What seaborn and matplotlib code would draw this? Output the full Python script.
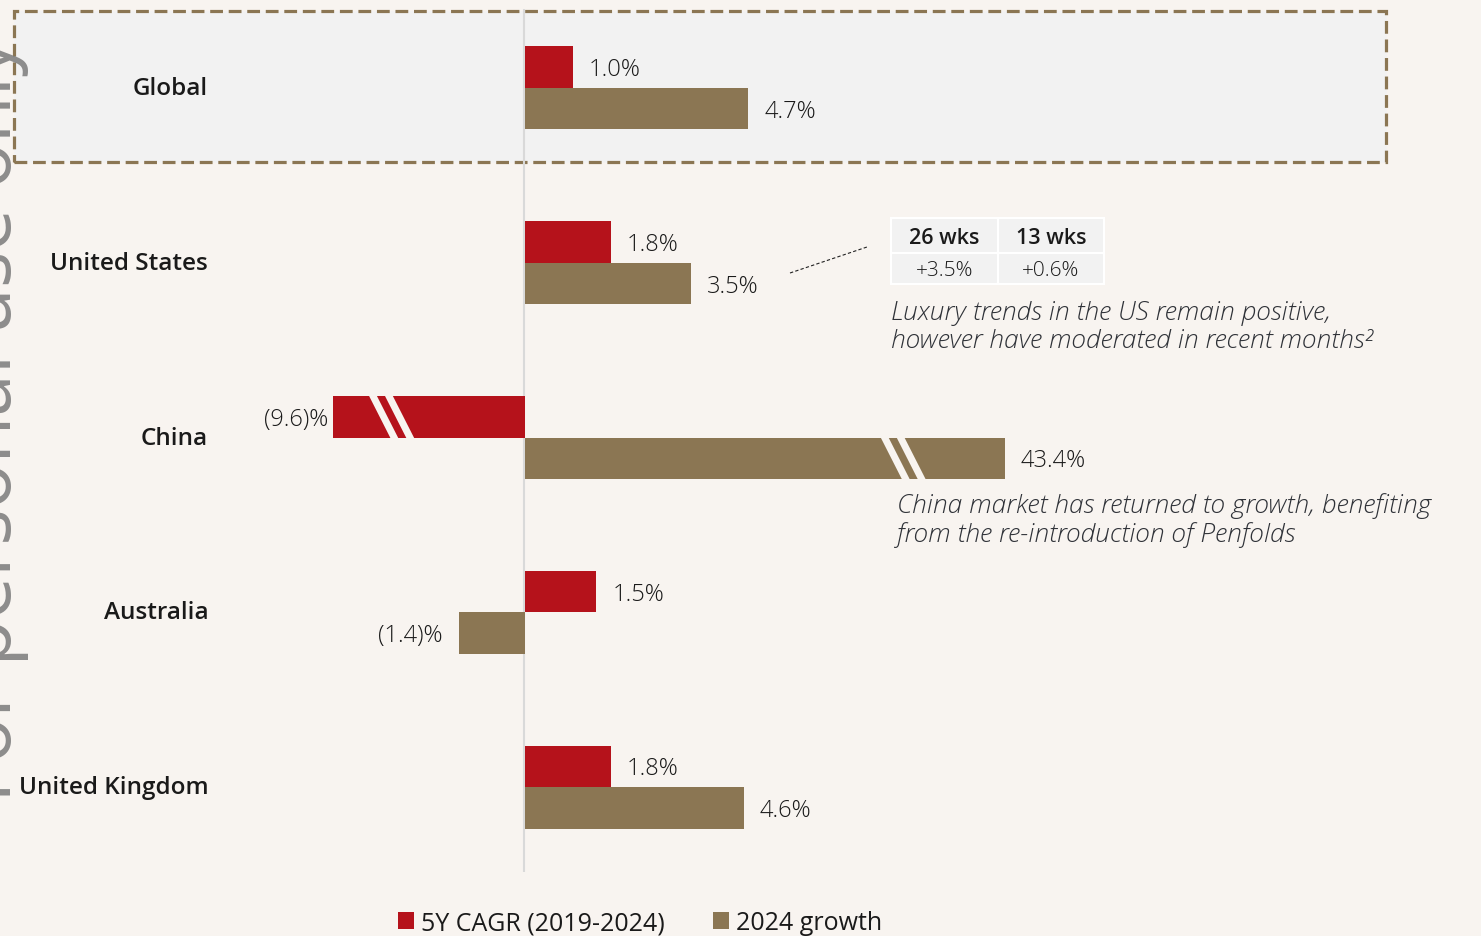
import numpy as np
import pandas as pd
import matplotlib
matplotlib.use("Agg")
import matplotlib.pyplot as plt
import seaborn as sns
from matplotlib.patches import Rectangle, Polygon, Patch
from matplotlib.lines import Line2D
from matplotlib.transforms import ScaledTranslation

# ---------------- data ----------------
regions = ["Global", "United States", "China", "Australia", "United Kingdom"]
series_names = ["5Y CAGR (2019-2024)", "2024 growth"]
cagr_5y = [1.0, 1.8, -9.6, 1.5, 1.8]
growth_2024 = [4.7, 3.5, 43.4, -1.4, 4.6]
# China bars are drawn with an axis break (shortened length)
broken_display = {("China", "5Y CAGR (2019-2024)"): -4.05,
                  ("China", "2024 growth"): 10.1}
break_at = {("China", "5Y CAGR (2019-2024)"): -3.30,
            ("China", "2024 growth"): 7.47}
table_headers = ["26 wks", "13 wks"]
table_values = ["+3.5%", "+0.6%"]
note_us = ["Luxury trends in the US remain positive,",
           "however have moderated in recent months²"]
note_china = ["China market has returned to growth, benefiting",
              "from the re-introduction of Penfolds"]
watermark = "For personal use only"

# ---------------- style ----------------
RED = "#b5121b"
BROWN = "#8b7653"
BG = "#f8f4f0"
HL = "#f2f2f2"
TXT = "#1a1a1a"
NOTE = "#2f3238"
FONT = ["Open Sans", "DejaVu Sans"]
plt.rcParams["font.family"] = FONT

W, H, DPI = 1481, 937, 100
fig = plt.figure(figsize=(W / DPI, H / DPI), dpi=DPI, facecolor=BG)


def fx(x):
    return x / W


def fy(y):
    return 1 - y / H


ax = fig.add_axes([fx(220), fy(873), fx(1481 - 220), (873 - 10) / H])
ax.set_facecolor("none")

rows = []
for r, a, b in zip(regions, cagr_5y, growth_2024):
    for s, v in zip(series_names, [a, b]):
        rows.append({"region": r, "series": s, "value": v,
                     "display": broken_display.get((r, s), v)})
df = pd.DataFrame(rows)

sns.barplot(data=df, y="region", x="display", hue="series", orient="h",
            order=regions, hue_order=series_names, palette=[RED, BROWN],
            width=0.474, saturation=1, linewidth=0, legend=False, ax=ax,
            zorder=2)
bars = list(ax.patches)

px_per_unit = 47.5
ax.set_xlim(-(525 - 220) / px_per_unit, (1481 - 525) / px_per_unit)
ax.set_ylim(4 + (873 - 788) / 175, -(89 - 10) / 175)
for sp in ax.spines.values():
    sp.set_visible(False)
ax.set_xticks([])
ax.set_xlabel("")
ax.set_ylabel("")
ax.tick_params(axis="y", length=0, pad=8.5)
lift = ScaledTranslation(0, 3 / DPI, fig.dpi_scale_trans)
for t in ax.get_yticklabels():
    t.set_fontsize(17.5)
    t.set_fontweight("semibold")
    t.set_color(TXT)
    t.set_transform(t.get_transform() + lift)

ax.axvline(-0.02, color="#d9d9d9", lw=1.5, zorder=1)

# highlight box around Global
ax.add_patch(Rectangle((fx(14), fy(163)), fx(1386 - 14), (163 - 12) / H,
                       transform=fig.transFigure, clip_on=False,
                       facecolor=HL, edgecolor=BROWN, lw=2.3,
                       linestyle=(0, (4, 1.8)), zorder=0.1))


def fmt(v):
    return f"{v:.1f}%" if v >= 0 else f"({abs(v):.1f})%"


# value labels + axis-break stripes
for p in bars:
    yc = p.get_y() + p.get_height() / 2
    idx = int(round(yc))
    s = series_names[0] if yc < idx else series_names[1]
    region = regions[idx]
    row = df[(df.region == region) & (df.series == s)].iloc[0]
    v, d = row["value"], row["display"]
    broken = (region, s) in broken_display
    if d >= 0:
        ax.annotate(fmt(v), (d, yc), xytext=(11.5, -1.5), textcoords="offset points",
                    ha="left", va="center", fontsize=17, color=TXT,
                    fontweight="light")
    else:
        pad = 3.5 if broken else 11.5
        ax.annotate(fmt(v), (d, yc), xytext=(-pad, -1.5), textcoords="offset points",
                    ha="right", va="center", fontsize=17, color=TXT,
                    fontweight="light")
    if broken:
        x0 = break_at[(region, s)]
        top, bot = p.get_y() - 0.01, p.get_y() + p.get_height() + 0.01
        w, shift, step = 0.165, 0.48, 0.335
        for k in range(2):
            xs = x0 + k * step
            ax.add_patch(Polygon([(xs, top), (xs + w, top),
                                  (xs + w + shift, bot), (xs + shift, bot)],
                                 closed=True, facecolor=BG, edgecolor="none",
                                 zorder=3))

# US mini-table
cols = [(891, 998), (998, 1104)]
rws = [(219, 254), (254, 285)]
for ci, (x0, x1) in enumerate(cols):
    for ri, (y0, y1) in enumerate(rws):
        fig.add_artist(Rectangle((fx(x0), fy(y1)), fx(x1 - x0), (y1 - y0) / H,
                                 facecolor=HL, edgecolor="white", lw=1.5))
    xc = fx((x0 + x1) / 2)
    fig.text(xc, fy(238), table_headers[ci], ha="center", va="center",
             fontsize=15.5, fontweight="semibold", color=TXT)
    fig.text(xc, fy(271), table_values[ci], ha="center", va="center",
             fontsize=15, fontweight="light", color=TXT)

fig.add_artist(Line2D([fx(790), fx(867)], [fy(274), fy(248)], color="#222222",
                      lw=0.8, linestyle=(0, (3, 2))))

for i, line in enumerate(note_us):
    fig.text(fx(891), fy(313 + 29 * i), line, ha="left", va="center",
             fontsize=19, style="italic", fontweight="light", color=NOTE)
for i, line in enumerate(note_china):
    fig.text(fx(897), fy(506 + 29 * i), line, ha="left", va="center",
             fontsize=19, style="italic", fontweight="light", color=NOTE)

# legend
handles = [Patch(facecolor=RED, edgecolor="none"),
           Patch(facecolor=BROWN, edgecolor="none")]
fig.legend(handles, series_names, ncol=2, frameon=False, loc="center",
           bbox_to_anchor=(fx(640), fy(924)), fontsize=18,
           handlelength=0.65, handleheight=0.65, handletextpad=0.3,
           columnspacing=1.9, labelcolor=TXT, borderpad=0)

# watermark
fig.text(fx(11), fy(38), watermark, rotation=90, rotation_mode="anchor",
         ha="right", va="baseline", fontsize=55, color="#7a7a7a", alpha=0.85,
         zorder=10)

fig.savefig("out.png", dpi=DPI, facecolor=BG)
